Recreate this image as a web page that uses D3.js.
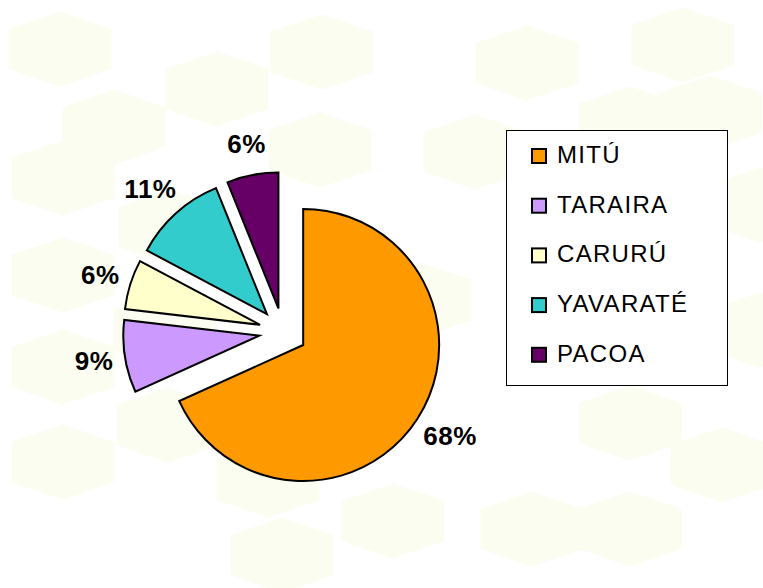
<!DOCTYPE html>
<html>
<head>
<meta charset="utf-8">
<script src="https://cdn.jsdelivr.net/npm/d3@7"></script>
<style>
    html, body { margin: 0; padding: 0; background: #fff; }
    svg { display: block; }
    text { font-family: "Liberation Sans", Arial, sans-serif; }
</style>
</head>
<body>
<svg id="chart"></svg>
<script>
// datos del grafico
var municipios = ["MITÚ", "TARAIRA", "CARURÚ", "YAVARATÉ", "PACOA"];
var porcentajes = [68.1, 8.6, 5.9, 11.1, 6.1];
var colores = ["#ff9900", "#cc99ff", "#ffffcc", "#33cccc", "#660066"];

// hexagonos del fondo (decoracion)
var hexagonos = [
    [60, 49], [217, 89], [322, 52], [114, 127], [63, 178], [170, 227], [320, 150],
    [63, 275], [527, 63], [683, 45], [630, 124], [710, 113], [475, 152], [760, 205],
    [63, 367], [168, 425], [63, 462], [268, 480], [282, 555], [393, 521], [165, 330],
    [532, 529], [630, 529], [630, 423], [722, 465], [760, 330], [420, 300]
];

var cfg = {
    "width": 763,
    "height": 588,
    "cx": 283,
    "cy": 332,
    "radius": 136,
    "explode": 24,
    "labelGap": 12
};

var svg = d3.select("#chart").attr("width", cfg.width).attr("height", cfg.height);

/**
 * fondo con hexagonos
 */
var drawBackground = function () {
    var hex = [[0, -37.5], [51.5, -20], [51.5, 20], [0, 37.5], [-51.5, 20], [-51.5, -20]];
    svg.append("rect").attr("width", cfg.width).attr("height", cfg.height).attr("fill", "#fff");
    svg.append("g").selectAll("polygon")
        .data(hexagonos)
        .enter()
        .append("polygon")
        .attr("points", function (d) {
            return hex.map(function (p) { return (d[0] + p[0]) + "," + (d[1] + p[1]); }).join(" ");
        })
        .attr("fill", "#fafdf0");
};

/**
 * torta separada
 */
var drawPie = function () {
    var total = d3.sum(porcentajes);
    var pie = d3.pie().sort(null).value(function (d) { return d; });
    var arc = d3.arc().innerRadius(0).outerRadius(cfg.radius);
    var fmt = d3.format(".0%");
    var arcs = pie(porcentajes);

    var dir = function (d) {
        var a = (d.startAngle + d.endAngle) / 2;
        return [Math.sin(a), -Math.cos(a)];
    };

    var g = svg.append("g").attr("transform", "translate(" + cfg.cx + "," + cfg.cy + ")");

    g.selectAll("path")
        .data(arcs)
        .enter()
        .append("path")
        .attr("transform", function (d) {
            var v = dir(d);
            return "translate(" + (v[0] * cfg.explode) + "," + (v[1] * cfg.explode) + ")";
        })
        .attr("d", arc)
        .attr("fill", function (d, i) { return colores[i]; })
        .attr("stroke", "#000")
        .attr("stroke-width", 2)
        .attr("stroke-linejoin", "miter");

    // etiquetas
    g.selectAll("text.etiqueta")
        .data(arcs)
        .enter()
        .append("text")
        .attr("class", "etiqueta")
        .attr("text-anchor", "middle")
        .attr("dominant-baseline", "central")
        .attr("font-size", 26)
        .attr("font-weight", "bold")
        .attr("letter-spacing", 0.5)
        .attr("fill", "#000")
        .text(function (d) { return fmt(d.value / total); })
        .each(function (d) {
            var b = this.getBBox();
            var v = dir(d);
            var rr = cfg.explode + cfg.radius + cfg.labelGap;
            var x = v[0] * rr + v[0] * b.width / 2;
            var y = v[1] * rr + v[1] * 20;
            d3.select(this).attr("x", x).attr("y", y);
        });
};

/**
 * leyenda
 */
var drawLegend = function () {
    var lg = svg.append("g").attr("transform", "translate(506,130)");
    lg.append("rect")
        .attr("x", 0.5).attr("y", 0.5)
        .attr("width", 221).attr("height", 255)
        .attr("fill", "#fff")
        .attr("stroke", "#000")
        .attr("stroke-width", 1);

    var item = lg.selectAll("g.item")
        .data(municipios)
        .enter()
        .append("g")
        .attr("class", "item")
        .attr("transform", function (d, i) { return "translate(0," + (26 + i * 49.7) + ")"; });

    item.append("rect")
        .attr("x", 26).attr("y", -7)
        .attr("width", 14).attr("height", 14)
        .attr("fill", function (d, i) { return colores[i]; })
        .attr("stroke", "#000")
        .attr("stroke-width", 2);

    item.append("text")
        .attr("x", 51)
        .attr("y", 7)
        .attr("font-size", 24)
        .attr("letter-spacing", 1.3)
        .attr("fill", "#000")
        .text(function (d) { return d; });
};

drawBackground();
drawPie();
drawLegend();
</script>
</body>
</html>
